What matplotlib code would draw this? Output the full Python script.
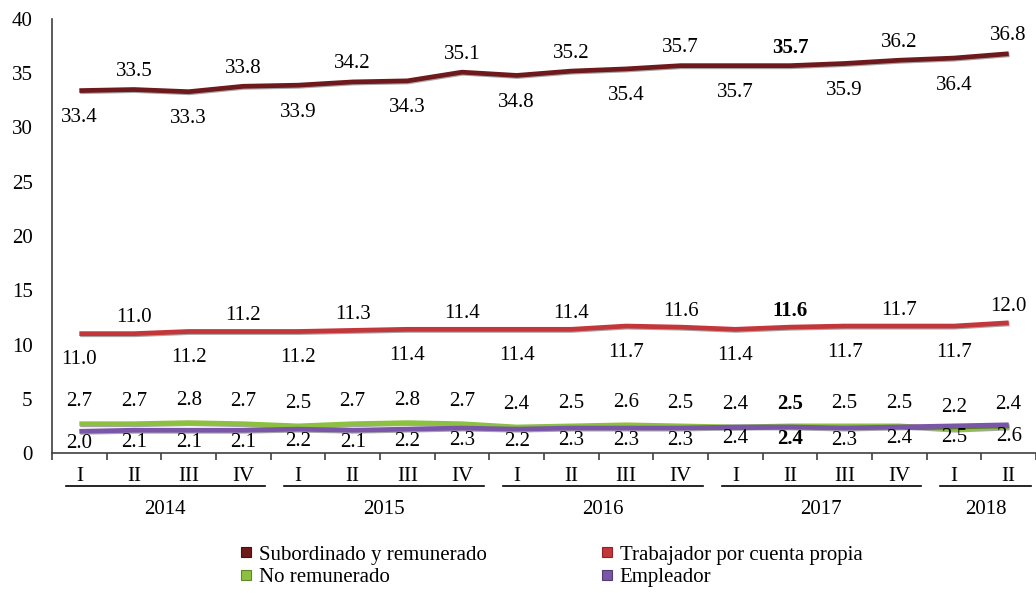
import matplotlib
matplotlib.use('Agg')
import matplotlib.pyplot as plt
from matplotlib.lines import Line2D
import matplotlib.transforms as mtransforms
import matplotlib.patheffects as pe

plt.rcParams['font.family'] = ['Liberation Serif', 'DejaVu Serif']

# ---------------- data ----------------
quarters = ['I', 'II', 'III', 'IV'] * 4 + ['I', 'II']
years = ['2014', '2015', '2016', '2017', '2018']
year_counts = [4, 4, 4, 4, 2]

subordinado = [33.4, 33.5, 33.3, 33.8, 33.9, 34.2, 34.3, 35.1, 34.8, 35.2,
               35.4, 35.7, 35.7, 35.7, 35.9, 36.2, 36.4, 36.8]
cuenta_propia = [11.0, 11.0, 11.2, 11.2, 11.2, 11.3, 11.4, 11.4, 11.4, 11.4,
                 11.7, 11.6, 11.4, 11.6, 11.7, 11.7, 11.7, 12.0]
no_remunerado = [2.7, 2.7, 2.8, 2.7, 2.5, 2.7, 2.8, 2.7, 2.4, 2.5,
                 2.6, 2.5, 2.4, 2.5, 2.5, 2.5, 2.2, 2.4]
empleador = [2.0, 2.1, 2.1, 2.1, 2.2, 2.1, 2.2, 2.3, 2.2, 2.3,
             2.3, 2.3, 2.4, 2.4, 2.3, 2.4, 2.5, 2.6]
bold_index = 13

series_names = ['Subordinado y remunerado', 'Trabajador por cuenta propia',
                'No remunerado', 'Empleador']
colors = ['#6E1A1C', '#C3363A', '#8DC040', '#7A56A8']
edge_colors = ['#4A0F10', '#8E2226', '#5E8A23', '#533A7A']

FS = 15

# ---------------- figure ----------------
fig = plt.figure(figsize=(10.36, 5.93), dpi=100)
ax = fig.add_axes([52 / 1036, 1 - 453 / 593, 1 - 52 / 1036, (453 - 19) / 593])

x = list(range(len(quarters)))
all_series = [subordinado, cuenta_propia, no_remunerado, empleador]
zorders = [3, 3, 3, 4]
for vals, c, z in zip(all_series, colors, zorders):
    ax.plot(x, vals, color=c, lw=3.4, solid_capstyle='butt', zorder=z,
            path_effects=[pe.SimpleLineShadow(offset=(0.6, -0.8), alpha=0.35),
                          pe.Normal()])

ax.set_xlim(-0.5, len(quarters) - 0.5)
ax.set_ylim(0, 40)
ax.set_yticks(range(0, 41, 5))
ax.tick_params(axis='y', length=0, labelsize=FS, pad=14)
for s in ['top', 'right']:
    ax.spines[s].set_visible(False)
ax.spines['left'].set_color('#404040')
ax.spines['bottom'].set_color('#404040')
ax.spines['left'].set_linewidth(1.2)
ax.spines['bottom'].set_linewidth(1.2)

# category boundaries (major ticks) and quarter labels (minor ticks)
ax.set_xticks([i - 0.5 for i in range(len(quarters) + 1)])
ax.set_xticklabels([])
ax.tick_params(axis='x', which='major', direction='out', length=5,
               width=1.2, color='#404040')
ax.set_xticks(x, minor=True)
ax.set_xticklabels(quarters, minor=True)
ax.tick_params(axis='x', which='minor', length=0, labelsize=FS, pad=10)

# year groups
trans = mtransforms.blended_transform_factory(ax.transData, ax.transAxes)
ax_h = 453 - 19
start = 0
for yr, n in zip(years, year_counts):
    x0 = start - 0.5 + 0.25
    x1 = start + n - 0.5 - 0.1
    ax.plot([x0, x1], [-33 / ax_h, -33 / ax_h], transform=trans,
            color='black', lw=1.2, clip_on=False)
    ax.text((x0 + x1) / 2, -56 / ax_h, yr, transform=trans, ha='center',
            va='center', fontsize=FS)
    start += n

# data labels
px = 72 / 100  # points per pixel


def label(vals, offsets_px):
    for i, (v, o) in enumerate(zip(vals, offsets_px)):
        ax.annotate(f'{v:.1f}', (i, v), xytext=(0, o * px),
                    textcoords='offset points', ha='center', va='center',
                    fontsize=FS,
                    fontweight='bold' if i == bold_index else 'normal',
                    zorder=6)


label(subordinado, [-27 if i % 2 == 0 else 18 for i in x])
label(cuenta_propia, [-26 if i % 2 == 0 else 16 for i in x])
label(no_remunerado, [22 for _ in x])
label(empleador, [-12 for _ in x])

# legend
handles = [Line2D([], [], ls='none', marker='s', markersize=7,
                  markerfacecolor=c, markeredgecolor=ec, markeredgewidth=0.8)
           for c, ec in zip(colors, edge_colors)]
order = [0, 2, 1, 3]
fig.legend([handles[i] for i in order], [series_names[i] for i in order],
           ncol=2, loc='center', bbox_to_anchor=(0.532, 1 - 566 / 593),
           frameon=False, fontsize=FS, handlelength=0.6, handletextpad=0.3,
           columnspacing=5.5, labelspacing=0.12, borderpad=0)

fig.savefig('out.png', dpi=100)
